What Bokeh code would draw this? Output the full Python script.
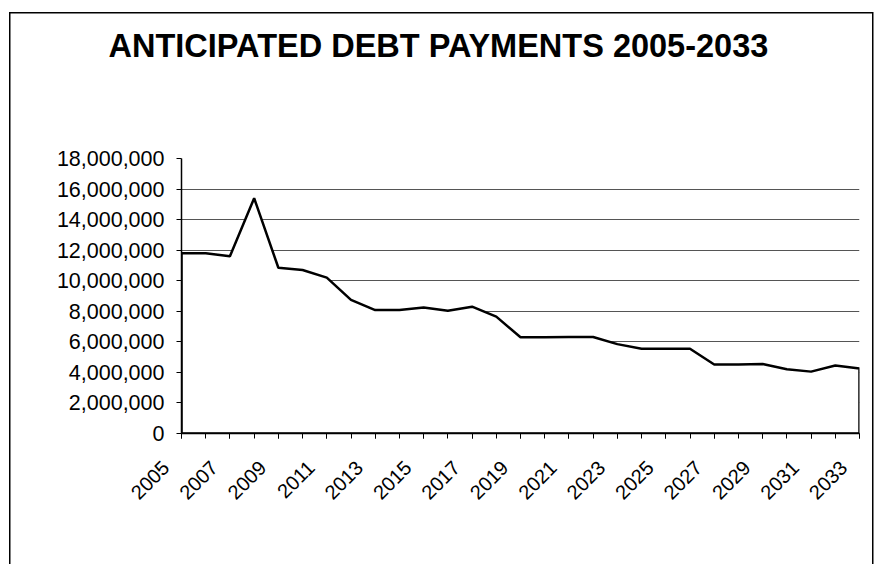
from math import pi
from bokeh.plotting import figure
from bokeh.models import Range1d, FixedTicker, NumeralTickFormatter, Title
from bokeh.embed import file_html
from bokeh.resources import INLINE

title_text = "ANTICIPATED DEBT PAYMENTS 2005-2033"
years = [2005, 2006, 2007, 2008, 2009, 2010, 2011, 2012, 2013, 2014,
         2015, 2016, 2017, 2018, 2019, 2020, 2021, 2022, 2023, 2024,
         2025, 2026, 2027, 2028, 2029, 2030, 2031, 2032, 2033]
payments = [11800000, 11800000, 11600000, 15400000, 10850000, 10700000,
            10200000, 8750000, 8080000, 8080000, 8250000, 8030000,
            8300000, 7650000, 6300000, 6300000, 6320000, 6320000,
            5850000, 5550000, 5550000, 5550000, 4520000, 4520000,
            4550000, 4200000, 4050000, 4450000, 4250000]
y_ticks = [0, 2000000, 4000000, 6000000, 8000000, 10000000, 12000000,
           14000000, 16000000, 18000000]
label_years = years[::2]

FONT = "Liberation Sans"
PAD = "\u00a0" * 4  # pushes rotated labels back along their slant, as in the original

p = figure(width=881, height=564, output_backend="svg", toolbar_location=None,
           title=None,
           x_range=Range1d(years[0], years[-1]), y_range=Range1d(0, 18000000),
           min_border_left=181, min_border_right=22, min_border_top=158,
           min_border_bottom=131)
p.outline_line_color = None
p.background_fill_color = "white"
p.border_fill_color = None
p.styles = {
    "background": (
        "linear-gradient(#000,#000) 9px 12px / 1.5px 100% no-repeat,"
        "linear-gradient(#000,#000) 872px 12px / 1.5px 100% no-repeat,"
        "linear-gradient(#000,#000) 9px 12px / 864px 1.5px no-repeat,"
        "#ffffff"
    )
}

# title, lifted away from the plot area by bottom padding
title = Title(text=title_text, align="left", offset=-73, standoff=0,
              vertical_align="bottom", text_font=FONT, text_font_size="32.5px",
              text_font_style="bold", text_color="black")
for pad in (dict(left=0, right=0, top=0, bottom=95), (0, 0, 95, 0)):
    try:
        title.padding = pad
        break
    except Exception:
        pass
p.add_layout(title, "above")

# area
xs = years + [years[-1], years[0]]
ys = payments + [0, 0]
p.patch(xs, ys, fill_color="white", line_color="black", line_width=2.5)

# grid
p.xgrid.visible = False
p.ygrid.ticker = FixedTicker(ticks=y_ticks[1:-1])
p.ygrid.grid_line_color = "#555555"
p.ygrid.grid_line_width = 1

# y axis
yax = p.yaxis[0]
yax.ticker = FixedTicker(ticks=y_ticks)
yax.formatter = NumeralTickFormatter(format="0,0")
yax.major_label_text_font = FONT
yax.major_label_text_font_size = "21.5px"
yax.major_label_text_color = "black"
yax.major_tick_in = 0
yax.major_tick_out = 5
yax.minor_tick_line_color = None
yax.axis_line_width = 1.5
yax.major_label_standoff = 12

# x axis
xax = p.below[0]
xax.ticker = FixedTicker(ticks=label_years, minor_ticks=years)
xax.major_label_overrides = {y: str(y) + PAD for y in label_years}
xax.major_label_orientation = pi / 4
xax.major_label_text_font = FONT
xax.major_label_text_font_size = "20px"
xax.major_label_text_color = "black"
xax.major_tick_in = 0
xax.major_tick_out = 5
xax.minor_tick_in = 0
xax.minor_tick_out = 5
xax.minor_tick_line_color = "black"
xax.axis_line_width = 1.5
xax.major_label_standoff = 10

open("out.html", "w").write(file_html(p, INLINE))
